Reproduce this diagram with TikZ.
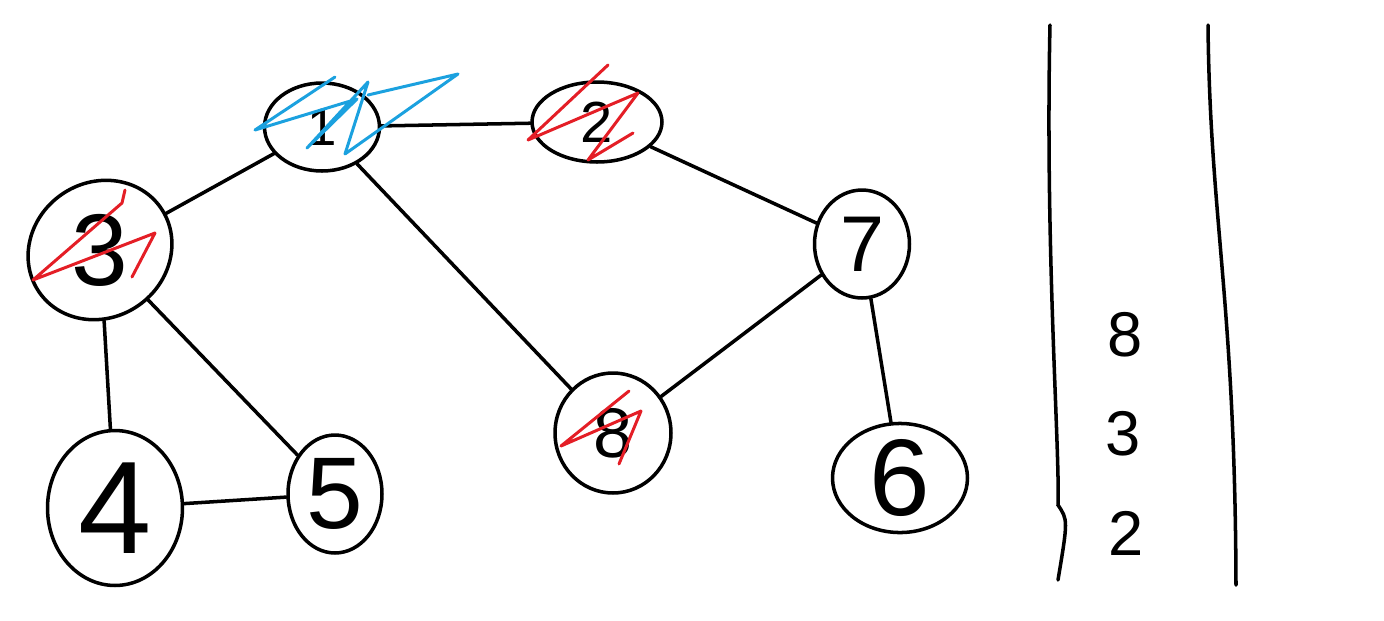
\documentclass[tikz,border=0pt]{standalone}
\usepackage{fontspec}
\setsansfont{Liberation Sans}
\usetikzlibrary{shapes.geometric}
\definecolor{penBlack}{HTML}{000000}
\definecolor{penRed}{HTML}{E41E26}
\definecolor{penBlue}{HTML}{1BA1DF}
\tikzset{
  vtx/.style={
    ellipse,
    draw=penBlack,
    line width=2pt,
    inner sep=0pt,
    font=\sffamily\fontsize{#1}{#1}\selectfont
  },
  edge/.style={draw=penBlack, line width=2pt, line cap=round},
  scribble/.style={line width=1.7pt, line cap=round, line join=round},
  rail/.style={draw=penBlack, line width=2pt, line cap=round},
  stackitem/.style={font=\sffamily\fontsize{36}{36}\selectfont, inner sep=0pt}
}

\begin{document}
\begin{tikzpicture}[x=0.02cm, y=-0.02cm]
  \useasboundingbox (0,0) rectangle (1384,620);

  % vertices of the graph
  \node[vtx=30, minimum width=2.3cm, minimum height=1.76cm] (n1) at (322,127) {1};
  \node[vtx=33, minimum width=2.6cm, minimum height=1.6cm] (n2) at (597,122) {2};
  \node[vtx=58, minimum width=2.96cm, minimum height=2.7cm, rotate=35] (n3) at (100,250) {\rotatebox{-35}{3}};
  \node[vtx=45, minimum width=1.9cm, minimum height=2.16cm] (n7) at (862,244) {7};
  \node[vtx=75, minimum width=2.7cm, minimum height=3.1cm] (n4) at (115,508) {4};
  \node[vtx=58, minimum width=1.88cm, minimum height=2.36cm] (n5) at (335,494) {5};
  \node[vtx=40, minimum width=2.32cm, minimum height=2.4cm] (n8) at (613,433) {8};
  \node[vtx=62, minimum width=2.7cm, minimum height=2.12cm] (n6) at (900,478) {6};

  % edges
  \draw[edge] (n1) -- (n2);
  \draw[edge] (n1) -- (n3);
  \draw[edge] (n1) -- (n8);
  \draw[edge] (n2) -- (n7);
  \draw[edge] (n7) -- (n8);
  \draw[edge] (n7) -- (n6);
  \draw[edge] (n3) -- (n4);
  \draw[edge] (n3) -- (n5);
  \draw[edge] (n4) -- (n5);

  % scribbles over visited vertices
  \draw[scribble, penBlue] ([shift={(13,-50)}]n1.center) -- ([shift={(-67,3)}]n1.center)
    -- ([shift={(35,-28)}]n1.center) -- ([shift={(-15,21)}]n1.center)
    -- ([shift={(46,-45)}]n1.center) -- ([shift={(23,27)}]n1.center)
    -- ([shift={(136,-53)}]n1.center) -- ([shift={(46,-32)}]n1.center);
  \draw[scribble, penRed] ([shift={(11,-57)}]n2.center) -- ([shift={(-69,18)}]n2.center)
    -- ([shift={(41,-29)}]n2.center) -- ([shift={(-9,38)}]n2.center)
    -- ([shift={(36,11)}]n2.center);
  \draw[scribble, penRed] ([shift={(25,-60)}]n3.center) -- ([shift={(22,-47)}]n3.center)
    -- ([shift={(-67,30)}]n3.center) -- ([shift={(55,-17)}]n3.center)
    -- ([shift={(32,27)}]n3.center);
  \draw[scribble, penRed] ([shift={(16,-42)}]n8.center) -- ([shift={(-52,13)}]n8.center)
    -- ([shift={(28,-22)}]n8.center) -- ([shift={(6,31)}]n8.center);

  % stack
  \coordinate (railLtop) at (1050,25);
  \coordinate (railLbot) at (1058,580);
  \coordinate (railRtop) at (1208,25);
  \coordinate (railRbot) at (1236,585);
  \draw[rail] (railLtop) .. controls (1045,250) and (1060,450) .. (1058,505)
    .. controls (1068,520) .. (railLbot);
  \draw[rail] (railRtop) .. controls (1210,220) and (1235,300) .. (railRbot);
  \node[stackitem] (s8) at (1125,335) {8};
  \node[stackitem] (s3) at (1123,434) {3};
  \node[stackitem] (s2) at (1126,533) {2};
\end{tikzpicture}
\end{document}
